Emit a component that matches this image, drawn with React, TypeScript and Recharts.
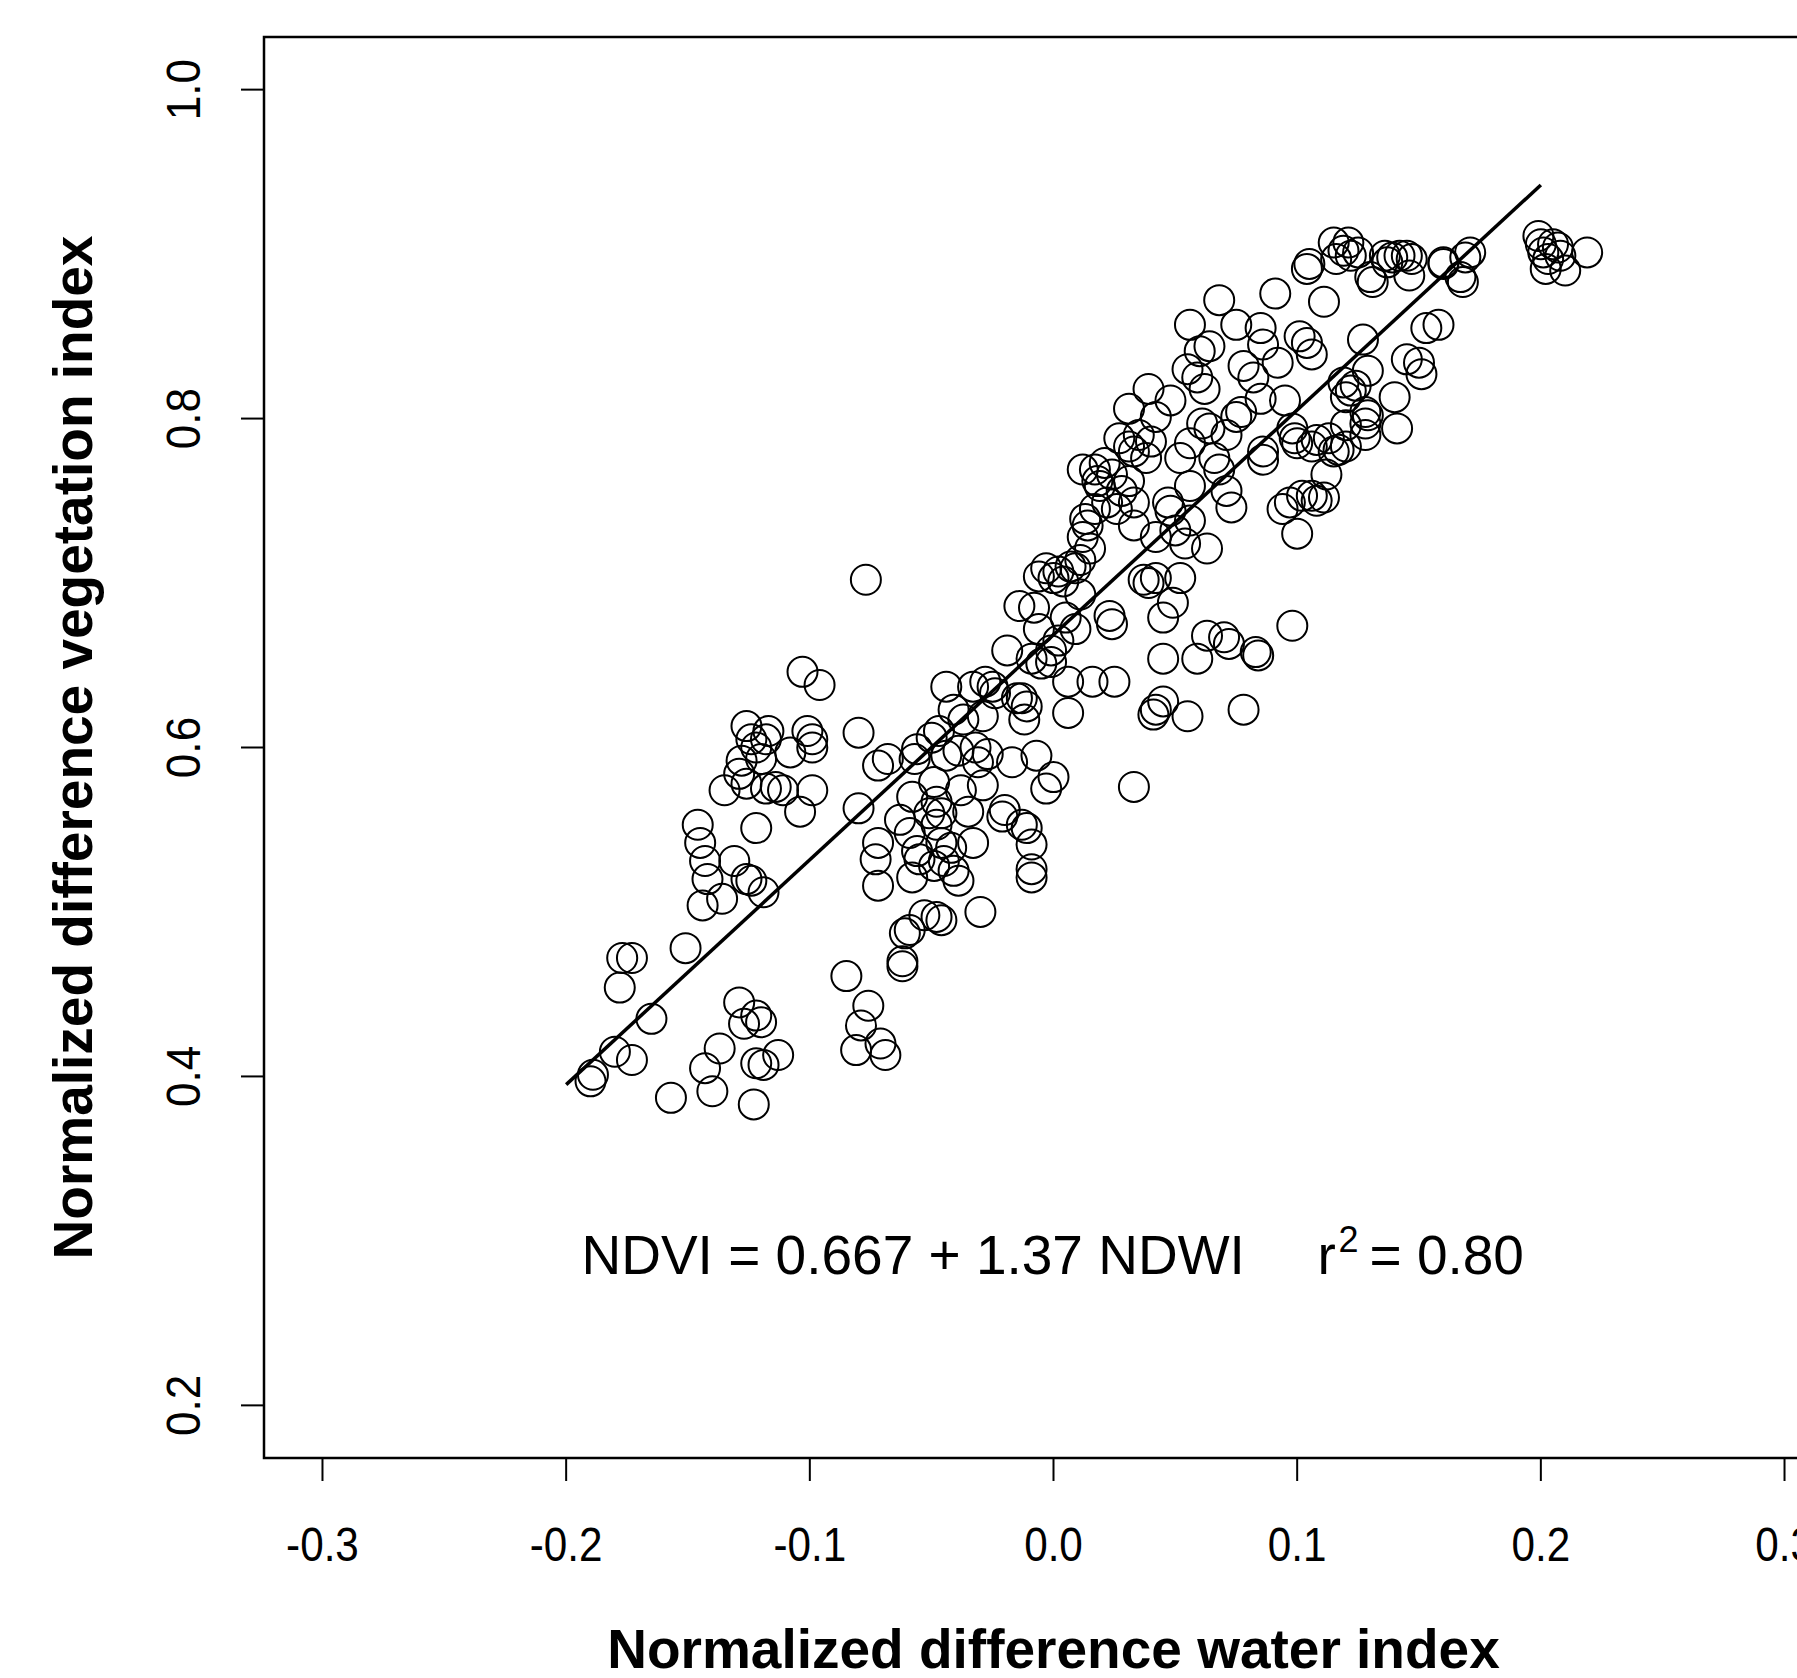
import React from "react";
import {
  ReferenceArea,
  ReferenceDot,
  ReferenceLine,
  Scatter,
  ScatterChart,
  XAxis,
  YAxis,
} from "recharts";

// NDWI (x) and NDVI (y) of each sample
const ndwi = [
  -0.19, -0.189, -0.18, -0.173, -0.178, -0.177, -0.173, -0.165, -0.157, -0.151,
  -0.143, -0.14, -0.137, -0.146, -0.145, -0.143, -0.144, -0.142, -0.136, -0.135,
  -0.129, -0.127, -0.122, -0.12, -0.122, -0.119, -0.113, -0.123, -0.126, -0.124,
  -0.122, -0.128, -0.129, -0.126, -0.131, -0.126, -0.124, -0.117, -0.118, -0.12,
  -0.122, -0.114, -0.111, -0.108, -0.101, -0.099, -0.099, -0.099, -0.104, -0.103,
  -0.096, -0.119, -0.077, -0.08, -0.08, -0.072, -0.073, -0.072, -0.072, -0.068,
  -0.085, -0.076, -0.079, -0.081, -0.071, -0.069, -0.062, -0.062, -0.061, -0.059,
  -0.063, -0.059, -0.057, -0.058, -0.056, -0.058, -0.053, -0.049, -0.051, -0.055,
  -0.049, -0.048, -0.046, -0.044, -0.047, -0.044, -0.048, -0.046, -0.045, -0.042,
  -0.041, -0.039, -0.046, -0.048, -0.041, -0.039, -0.038, -0.035, -0.033, -0.033,
  -0.032, -0.031, -0.029, -0.03, -0.025, -0.027, -0.017, -0.02, -0.021, -0.013,
  -0.011, -0.009, -0.009, -0.009, -0.003, 0.0, -0.013, -0.011, -0.019, -0.014,
  -0.008, -0.006, -0.005, -0.001, 0.006, 0.006, 0.016, 0.025, 0.024, 0.023,
  0.009, 0.011, 0.002, 0.033, 0.042, 0.045, 0.055, 0.045, 0.059, 0.063,
  0.07, 0.072, 0.083, 0.084, 0.078, 0.098, -0.006, -0.003, 0.0, 0.002,
  0.004, 0.007, 0.009, 0.011, 0.015, 0.013, 0.017, 0.012, 0.017, 0.019,
  0.022, 0.021, 0.024, 0.028, 0.026, 0.031, 0.033, 0.033, 0.035, 0.031,
  0.033, 0.038, 0.04, 0.039, 0.042, 0.048, 0.037, 0.039, 0.042, 0.045,
  0.042, 0.047, 0.048, 0.049, 0.052, 0.052, 0.056, 0.056, 0.063, 0.055,
  0.056, 0.06, 0.062, 0.064, 0.059, 0.061, 0.064, 0.066, 0.068, 0.071,
  0.073, 0.071, 0.075, 0.068, 0.075, 0.078, 0.077, 0.082, 0.085, 0.086,
  0.086, 0.086, 0.091, 0.092, 0.095, 0.098, 0.1, 0.094, 0.097, 0.1,
  0.102, 0.101, 0.104, 0.106, 0.108, 0.111, 0.108, 0.112, 0.106, 0.111,
  0.105, 0.104, 0.115, 0.119, 0.121, 0.116, 0.122, 0.125, 0.13, 0.136,
  0.139, 0.142, 0.145, 0.137, 0.147, 0.146, 0.16, 0.167, 0.169, 0.171,
  0.127, 0.129, 0.119, 0.122, 0.12, 0.128, 0.128, 0.128, 0.14, 0.141,
  0.145, 0.15, 0.151, 0.153, 0.158, 0.12, 0.115, 0.199, 0.2, 0.201,
  0.203, 0.205, 0.207, 0.208, 0.21, 0.219, 0.202, -0.015, -0.009, -0.007,
  -0.001, 0.005, -0.012, -0.028, -0.029, -0.024, -0.037, 0.054, 0.056, 0.05,
  0.027, 0.031, 0.018, 0.014, 0.012, 0.12, 0.106, 0.041, -0.118, 0.085,
  0.113, 0.099, 0.124, 0.129, 0.117, 0.168, 0.16, 0.131, -0.056, -0.05,
];

const ndvi = [
  0.397, 0.401, 0.415, 0.41, 0.454, 0.472, 0.472, 0.435, 0.387, 0.478,
  0.405, 0.391, 0.417, 0.553, 0.542, 0.531, 0.504, 0.52, 0.508, 0.574,
  0.445, 0.432, 0.437, 0.433, 0.408, 0.407, 0.413, 0.383, 0.613, 0.605,
  0.6, 0.592, 0.584, 0.578, 0.531, 0.52, 0.519, 0.61, 0.605, 0.593,
  0.551, 0.576, 0.574, 0.597, 0.61, 0.605, 0.6, 0.574, 0.561, 0.646,
  0.638, 0.512, 0.702, 0.609, 0.563, 0.542, 0.532, 0.516, 0.589, 0.593,
  0.461, 0.443, 0.431, 0.416, 0.42, 0.413, 0.47, 0.467, 0.487, 0.489,
  0.556, 0.548, 0.593, 0.57, 0.537, 0.521, 0.498, 0.528, 0.56, 0.532,
  0.579, 0.567, 0.56, 0.595, 0.61, 0.637, 0.553, 0.542, 0.531, 0.539,
  0.525, 0.519, 0.495, 0.497, 0.623, 0.598, 0.574, 0.561, 0.542, 0.637,
  0.6, 0.591, 0.577, 0.5, 0.637, 0.596, 0.591, 0.562, 0.558, 0.553,
  0.551, 0.541, 0.526, 0.521, 0.575, 0.582, 0.63, 0.625, 0.659, 0.686,
  0.685, 0.672, 0.651, 0.652, 0.64, 0.621, 0.64, 0.64, 0.675, 0.68,
  0.672, 0.693, 0.665, 0.576, 0.623, 0.628, 0.619, 0.654, 0.654, 0.668,
  0.667, 0.663, 0.658, 0.656, 0.623, 0.674, 0.704, 0.709, 0.703, 0.707,
  0.701, 0.71, 0.709, 0.714, 0.721, 0.739, 0.745, 0.769, 0.769, 0.759,
  0.749, 0.773, 0.766, 0.756, 0.745, 0.762, 0.749, 0.735, 0.79, 0.806,
  0.78, 0.776, 0.786, 0.818, 0.801, 0.811, 0.702, 0.7, 0.703, 0.679,
  0.728, 0.749, 0.744, 0.688, 0.703, 0.776, 0.785, 0.759, 0.721, 0.83,
  0.857, 0.841, 0.818, 0.844, 0.825, 0.797, 0.794, 0.776, 0.769, 0.756,
  0.746, 0.79, 0.801, 0.872, 0.857, 0.832, 0.804, 0.825, 0.855, 0.845,
  0.78, 0.775, 0.876, 0.834, 0.811, 0.794, 0.785, 0.745, 0.749, 0.73,
  0.753, 0.85, 0.846, 0.839, 0.787, 0.752, 0.75, 0.766, 0.783, 0.871,
  0.894, 0.891, 0.907, 0.902, 0.907, 0.897, 0.899, 0.901, 0.886, 0.899,
  0.898, 0.899, 0.899, 0.895, 0.897, 0.887, 0.894, 0.886, 0.898, 0.901,
  0.848, 0.829, 0.822, 0.817, 0.813, 0.804, 0.797, 0.79, 0.813, 0.794,
  0.836, 0.834, 0.827, 0.855, 0.857, 0.783, 0.78, 0.911, 0.906, 0.901,
  0.897, 0.906, 0.904, 0.899, 0.89, 0.901, 0.891, 0.63, 0.654, 0.595,
  0.659, 0.679, 0.617, 0.64, 0.619, 0.633, 0.617, 0.724, 0.738, 0.732,
  0.788, 0.783, 0.762, 0.735, 0.728, 0.796, 0.753, 0.62, 0.575, 0.812,
  0.788, 0.788, 0.82, 0.802, 0.781, 0.883, 0.895, 0.883, 0.599, 0.606,
];

// ends of the fitted line, as drawn
const fitX = [-0.2, 0.2];
const fitY = [0.395, 0.942];

const xTicks = [-0.3, -0.2, -0.1, 0.0, 0.1, 0.2, 0.3];
const yTicks = [0.2, 0.4, 0.6, 0.8, 1.0];
const xDomain: [number, number] = [-0.324, 0.324];
const yDomain: [number, number] = [0.168, 1.032];

const tickFont = {
  fontFamily: "'Liberation Sans Narrow', 'Liberation Sans', sans-serif",
  fontSize: 48,
  fill: "#000",
};
const titleFont = {
  fontFamily: "'Liberation Sans', Arial, sans-serif",
  fontSize: 55,
  fontWeight: 700,
  fill: "#000",
};

const points = ndwi.map((x, i) => ({ x, y: ndvi[i] }));

// tick labels in the original are narrow, so squeeze them along the text
function XTick({ x, y, payload }: any) {
  return (
    <text
      transform={`translate(${x} ${y + 64}) scale(0.88 1)`}
      textAnchor="middle"
      dominantBaseline="central"
      style={tickFont}
    >
      {Number(payload.value).toFixed(1)}
    </text>
  );
}

function YTick({ x, y, payload }: any) {
  const cx = x - 58;
  return (
    <text
      transform={`translate(${cx} ${y}) rotate(-90) scale(0.92 1)`}
      textAnchor="middle"
      dominantBaseline="central"
      style={tickFont}
    >
      {Number(payload.value).toFixed(1)}
    </text>
  );
}

function XTitle({ viewBox }: any) {
  return (
    <text x={viewBox.x + viewBox.width / 2} y={viewBox.y + 210} textAnchor="middle" style={titleFont}>
      Normalized difference water index
    </text>
  );
}

function YTitle({ viewBox }: any) {
  const bx = 92;
  const cy = viewBox.y + viewBox.height / 2;
  return (
    <text x={bx} y={cy} textAnchor="middle" transform={`rotate(-90 ${bx} ${cy})`} style={titleFont}>
      Normalized difference vegetation index
    </text>
  );
}

function Equation({ viewBox }: any) {
  const cx = viewBox.x + viewBox.width / 2;
  const cy = viewBox.y + viewBox.height / 2;
  const font = { fontFamily: "'Liberation Sans', Arial, sans-serif", fontSize: 55, fill: "#000" };
  return (
    <text y={cy} style={font}>
      <tspan x={cx - 472}>NDVI = 0.667 + 1.37 NDWI</tspan>
      <tspan x={cx + 264}>r</tspan>
      <tspan x={cx + 285} dy={-22} fontSize={36}>2</tspan>
      <tspan x={cx + 316} dy={22}>= 0.80</tspan>
    </text>
  );
}

function Ring(props: any) {
  return <circle cx={props.cx} cy={props.cy} r={15} fill="none" stroke="#000" strokeWidth={2} />;
}

export default function App() {
  return (
    <div
      style={{
        position: "fixed",
        left: 0,
        top: 0,
        width: 1797,
        height: 1678,
        overflow: "hidden",
        background: "#fff",
      }}
    >
      <ScatterChart width={1860} height={1678} margin={{ top: 37, right: 17, bottom: 0, left: 0 }}>
        <XAxis
          type="number"
          dataKey="x"
          domain={xDomain}
          ticks={xTicks}
          allowDataOverflow
          axisLine={false}
          tickSize={23}
          tickMargin={0}
          tickLine={{ stroke: "#000", strokeWidth: 2 }}
          tick={<XTick />}
          height={220}
          label={<XTitle />}
        />
        <YAxis
          type="number"
          dataKey="y"
          domain={yDomain}
          ticks={yTicks}
          allowDataOverflow
          axisLine={false}
          tickSize={23}
          tickMargin={0}
          tickLine={{ stroke: "#000", strokeWidth: 2 }}
          tick={<YTick />}
          width={264}
          label={<YTitle />}
        />
        <ReferenceArea
          x1={xDomain[0]}
          x2={xDomain[1]}
          y1={yDomain[0]}
          y2={yDomain[1]}
          fill="none"
          stroke="#000"
          strokeWidth={2.5}
          ifOverflow="visible"
        />
        <Scatter data={points} shape={<Ring />} isAnimationActive={false} />
        <ReferenceLine
          segment={[
            { x: fitX[0], y: fitY[0] },
            { x: fitX[1], y: fitY[1] },
          ]}
          stroke="#000"
          strokeWidth={3.5}
        />
        <ReferenceDot x={0} y={0.28} r={1} fill="none" stroke="none" label={<Equation />} />
      </ScatterChart>
    </div>
  );
}
